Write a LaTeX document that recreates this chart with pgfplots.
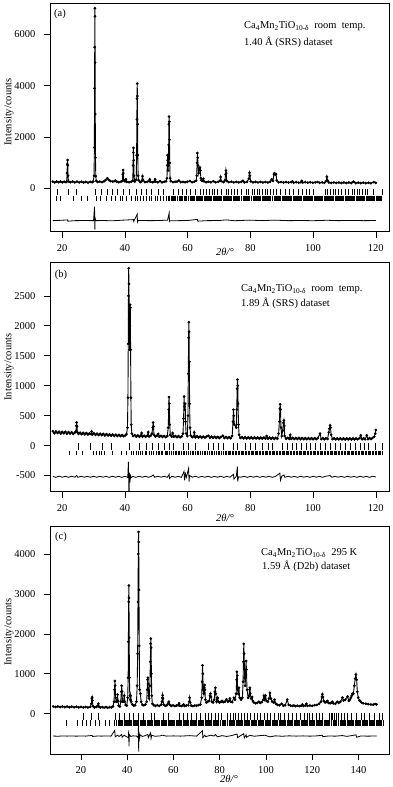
\documentclass[border=0pt]{standalone}
\usepackage{fontspec}
\setmainfont{Liberation Serif}
\usepackage{pgfplots}
\pgfplotsset{compat=1.18}
\pgfplotsset{
  panel/.style={scale only axis, width=339pt, tick align=outside, tick pos=left,
    major tick length=6pt, axis line style={line width=0.6pt},
    every tick/.append style={line width=0.6pt, black},
    ticklabel style={font=\fontsize{10.5}{12}\selectfont},
    yticklabel shift=5pt, xticklabel shift=3pt,
    /pgf/number format/assume math mode=true,
    /pgf/number format/1000 sep={}},
  obs/.style={black, line width=0.9pt, mark=*, mark size=0.85pt},
  diff/.style={black, line width=0.8pt},
  refl/.style={black, only marks, mark=|, mark options={line width=0.32pt}},
}

\begin{document}
\begin{tikzpicture}
\useasboundingbox (0,0) rectangle (392pt,-787pt);

% ---------------- (a) 1.40 A SRS
\begin{axis}[panel, at={(50pt,-231.7pt)}, anchor=south west, height=228.4pt,
  xmin=16.1, xmax=124.2, ymin=-1680, ymax=7210,
  xtick={20,40,...,120}, ytick={0,2000,4000,6000}]
\addplot[obs] coordinates {
(17.0,270)(17.6,240)(18.2,275)(18.8,245)(19.4,272)(20.0,240)(20.6,268)(21.2,245)
(21.45,270)(21.55,600)(21.62,950)(21.7,1110)(21.78,900)(21.86,500)(21.98,280)
(22.6,245)(23.3,272)(24.0,240)(24.7,268)(25.4,238)(26.1,266)(26.8,235)(27.5,262)(28.2,232)(28.9,260)(29.5,245)(29.9,280)
(30.15,500)(30.25,1600)(30.31,3900)(30.36,5500)(30.4,7020)(30.44,6700)(30.48,4900)(30.53,2900)(30.6,1200)(30.7,480)(30.85,300)
(31.3,255)(32.0,270)(32.7,250)(33.3,280)(33.8,330)(34.4,400)(34.9,330)(35.4,290)(36.1,270)(36.7,290)(37.0,310)(37.4,270)(38.0,245)(38.7,268)
(39.2,300)(39.3,550)(39.4,720)(39.5,600)(39.62,330)(40.0,280)(40.3,360)(40.6,260)(41.3,245)(42.0,268)
(42.5,300)(42.6,900)(42.67,1400)(42.72,1580)(42.8,1100)(42.88,500)(43.1,270)
(43.6,350)(43.72,1300)(43.8,2700)(43.86,3500)(43.92,4080)(43.97,3600)(44.03,2500)(44.1,1300)(44.2,500)(44.35,320)
(44.9,250)(45.3,280)(45.6,480)(45.8,320)(46.4,250)(47.1,265)(47.7,280)(47.9,360)(48.1,270)(48.8,245)(49.4,280)(49.6,360)(49.8,270)(50.5,242)(51.2,290)(51.8,242)(52.5,265)(53.1,280)
(53.4,400)(53.5,900)(53.58,1300)(53.65,1100)(53.75,700)(53.85,900)(53.95,1700)(54.02,2500)(54.08,2800)(54.14,2600)(54.2,1900)(54.28,1000)(54.4,400)(54.6,290)
(55.3,250)(56.0,265)(56.6,270)(57.2,310)(57.8,250)(58.5,262)(59.2,245)(59.9,265)(60.7,290)(61.4,245)(62.1,265)(62.7,300)
(62.9,500)(63.0,1000)(63.1,1380)(63.2,1200)(63.3,900)(63.5,600)(63.75,780)(63.9,820)(64.05,700)(64.2,400)(64.4,320)(64.7,300)(65.0,380)(65.2,280)
(65.9,245)(66.6,265)(67.4,242)(68.2,285)(68.9,242)(69.7,262)(70.3,300)(70.5,450)(70.7,290)(71.4,250)(71.9,320)
(72.1,550)(72.2,700)(72.3,600)(72.45,300)
(73.1,245)(73.9,265)(74.7,240)(75.5,262)(76.3,240)(77.1,260)(77.6,300)(78.1,240)(78.9,260)(79.5,380)(79.7,610)(79.85,500)(80.1,280)
(80.8,240)(81.6,260)(82.4,238)(83.2,258)(84.0,235)(84.8,255)(85.6,236)(86.3,265)(86.8,360)(87.2,300)(87.5,560)(87.7,600)(87.9,540)(88.2,560)(88.4,320)
(89.0,240)(89.8,255)(90.6,235)(91.4,252)(92.2,232)(93.0,250)(93.4,280)(93.8,230)(94.6,250)(95.4,228)(96.1,248)(96.4,300)(96.7,235)(97.5,248)
(98.3,228)(99.1,245)(99.9,226)(100.7,242)(101.4,255)(102.1,224)(102.9,242)(103.6,222)(104.2,300)(104.4,460)(104.6,320)(105.0,235)
(105.8,220)(106.6,238)(107.4,218)(108.2,236)(109.0,215)(109.8,234)(110.6,214)(111.4,232)(112.2,212)(112.9,270)(113.6,212)(114.4,230)
(115.2,210)(116.0,228)(116.8,208)(117.6,226)(118.4,206)(119.3,250)(120.0,220)
};
\addplot[refl, mark size=2.8pt] coordinates {
(18.40,-134)(21.91,-134)(24.57,-134)(30.64,-134)(32.55,-134)(34.36,-134)(35.96,-134)(37.55,-134)(39.47,-134)(41.38,-134)
(43.72,-134)(45.32,-134)(46.91,-134)(48.51,-134)(50.64,-134)(52.23,-134)(55.43,-134)(57.02,-134)(58.09,-134)(59.47,-134)
(60.74,-134)(62.34,-134)(63.94,-134)(64.79,-134)(65.74,-134)(66.70,-134)(67.66,-134)(68.51,-134)(69.47,-134)(70.53,-134)
(72.23,-134)(72.98,-134)(73.83,-134)(74.79,-134)(75.85,-134)(76.91,-134)(78.62,-134)(79.36,-134)(80.43,-134)(81.17,-134)
(82.02,-134)(82.87,-134)(83.83,-134)(84.68,-134)(85.43,-134)(86.28,-134)(87.13,-134)(88.09,-134)(89.47,-134)(91.06,-134)
(92.45,-134)(93.72,-134)(95.32,-134)(96.38,-134)(97.77,-134)(98.83,-134)(99.89,-134)(103.83,-134)(104.57,-134)(105.43,-134)
(106.28,-134)(107.13,-134)(107.98,-134)(108.83,-134)(110.21,-134)(111.28,-134)(112.34,-134)(113.19,-134)(113.94,-134)(114.79,-134)
(115.64,-134)(116.49,-134)(117.34,-134)(119.04,-134)(121.91,-134)
};
\addplot[refl, mark size=2.6pt] coordinates {
(18.19,-375)(19.47,-375)(23.51,-375)(26.17,-375)(27.98,-375)(30.96,-375)(32.02,-375)(34.15,-375)(35.74,-375)(36.81,-375)
(38.40,-375)(39.26,-375)(40.53,-375)(42.13,-375)(43.19,-375)(43.94,-375)(44.79,-375)(45.85,-375)(46.70,-375)(47.77,-375)
(48.51,-375)(49.57,-375)(50.32,-375)(51.38,-375)(52.23,-375)(53.30,-375)
(53.8,-375)(54.2,-375)(54.6,-375)(54.9,-375)(55.3,-375)(55.6,-375)(56.0,-375)(56.5,-375)(56.8,-375)(57.2,-375)
(57.7,-375)(58.0,-375)(58.4,-375)(58.8,-375)(59.1,-375)(59.6,-375)(60.0,-375)(60.3,-375)(60.7,-375)(61.0,-375)
(61.5,-375)(61.9,-375)(62.2,-375)(62.6,-375)(63.0,-375)(63.3,-375)(63.7,-375)(64.0,-375)(64.4,-375)(64.7,-375)
(65.1,-375)(65.5,-375)(65.8,-375)(66.2,-375)(66.5,-375)(66.9,-375)(67.3,-375)(67.6,-375)(68.0,-375)(68.3,-375)
(68.7,-375)(69.0,-375)(69.4,-375)(69.8,-375)(70.1,-375)(70.5,-375)(70.8,-375)(71.2,-375)(71.5,-375)(71.9,-375)
(72.3,-375)(72.6,-375)(73.0,-375)(73.3,-375)(73.7,-375)(74.0,-375)(74.4,-375)(74.7,-375)(75.1,-375)(75.4,-375)
(75.8,-375)(76.2,-375)(76.5,-375)(76.9,-375)(77.2,-375)(77.6,-375)(77.9,-375)(78.3,-375)(78.6,-375)(79.0,-375)
(79.4,-375)(79.7,-375)(80.1,-375)(80.4,-375)(80.8,-375)(81.1,-375)(81.5,-375)(81.8,-375)(82.2,-375)(82.5,-375)
(82.9,-375)(83.2,-375)(83.6,-375)(84.0,-375)(84.3,-375)(84.7,-375)(85.0,-375)(85.4,-375)(85.7,-375)(86.1,-375)
(86.4,-375)(86.8,-375)(87.1,-375)(87.5,-375)(87.8,-375)(88.2,-375)(88.5,-375)(88.9,-375)(89.2,-375)(89.6,-375)
(90.0,-375)(90.3,-375)(90.7,-375)(91.0,-375)(91.4,-375)(91.7,-375)(92.1,-375)(92.4,-375)(92.8,-375)(93.1,-375)
(93.5,-375)(93.8,-375)(94.2,-375)(94.5,-375)(94.9,-375)(95.2,-375)(95.6,-375)(96.0,-375)(96.3,-375)(96.7,-375)
(97.0,-375)(97.4,-375)(97.7,-375)(98.1,-375)(98.4,-375)(98.8,-375)(99.1,-375)(99.5,-375)(99.8,-375)(100.2,-375)
(100.5,-375)(100.9,-375)(101.2,-375)(101.6,-375)(102.0,-375)(102.3,-375)(102.7,-375)(103.0,-375)(103.4,-375)(103.7,-375)
(104.1,-375)(104.4,-375)(104.8,-375)(105.1,-375)(105.5,-375)(105.8,-375)(106.2,-375)(106.5,-375)(106.9,-375)(107.2,-375)
(107.6,-375)(108.0,-375)(108.3,-375)(108.7,-375)(109.0,-375)(109.4,-375)(109.7,-375)(110.1,-375)(110.4,-375)(110.8,-375)
(111.1,-375)(111.5,-375)(111.8,-375)(112.2,-375)(112.5,-375)(112.9,-375)(113.2,-375)(113.6,-375)(114.0,-375)(114.3,-375)
(114.7,-375)(115.0,-375)(115.4,-375)(115.7,-375)(116.1,-375)(116.4,-375)(116.8,-375)(117.1,-375)(117.5,-375)(117.8,-375)
(118.2,-375)(118.5,-375)(118.9,-375)(119.2,-375)(119.6,-375)(120.0,-375)(120.3,-375)(120.7,-375)(121.0,-375)(121.4,-375)(121.7,-375)
};
\addplot[diff] coordinates {
(17,-1250)(19,-1240)(21.7,-1220)(21.8,-1270)(24,-1250)(27,-1245)(30.0,-1250)(30.3,-700)(30.38,-1300)(30.42,-1600)(30.5,-1150)(30.7,-1250)
(33,-1245)(36,-1255)(39.4,-1230)(42.7,-1210)(42.8,-1280)(43.9,-1000)(44.0,-1300)(44.2,-1240)(48,-1250)(51,-1245)(53.6,-1230)
(54.1,-950)(54.2,-1280)(54.4,-1250)(57,-1250)(60,-1245)(63.1,-1200)(63.2,-1270)(66,-1250)(70,-1245)(72.2,-1220)(75,-1252)
(79.7,-1230)(84,-1248)(87.6,-1230)(92,-1250)(96,-1245)(100,-1252)(104.4,-1235)(108,-1250)(112,-1240)(116,-1250)(120,-1245)
};
\end{axis}

% ---------------- (b) 1.89 A SRS
\begin{axis}[panel, at={(50pt,-491.7pt)}, anchor=south west, height=229.4pt,
  xmin=16.1, xmax=124.2, ymin=-770, ymax=3060,
  xtick={20,40,...,120}, ytick={-500,0,500,...,2500}]
\addplot[obs] coordinates {
(17.0,240)(17.5,205)(18.0,235)(18.5,210)(19.0,232)(19.5,200)(20.0,228)(20.5,205)(21.0,230)(21.5,198)(22.0,225)(22.5,200)(23.0,222)(23.5,196)(24.0,218)
(24.4,240)(24.5,330)(24.6,385)(24.7,320)(24.85,220)
(25.2,195)(25.7,215)(26.2,190)(26.7,212)(27.2,188)(27.7,210)(28.2,185)(28.7,205)(29.2,190)(29.4,235)(29.6,185)(30.1,205)(30.6,180)(31.1,200)
(31.6,176)(32.1,198)(32.6,174)(33.1,195)(33.6,170)(34.1,192)(34.6,168)(35.1,188)(35.6,165)(36.1,185)(36.6,162)(37.1,182)(37.6,160)(38.1,178)
(38.6,158)(39.1,175)(39.6,156)(40.1,172)(40.5,190)
(40.8,300)(40.95,800)(41.05,1700)(41.12,2500)(41.2,2960)(41.28,2700)(41.36,2100)(41.45,1600)(41.55,2000)(41.65,2350)(41.72,2300)(41.8,1600)(41.9,800)(42.0,350)(42.2,200)
(42.6,160)(43.1,175)(43.6,150)(44.1,170)(44.6,148)(45.1,168)(45.3,210)(45.6,150)(46.1,165)(46.6,146)(47.1,165)(47.4,225)(47.7,150)(48.2,165)(48.6,200)
(48.85,300)(49.0,385)(49.1,320)(49.25,180)
(49.7,150)(50.2,165)(50.6,195)(51.0,148)(51.5,162)(52.0,145)(52.5,160)(53.0,142)(53.5,160)(53.8,300)
(53.95,600)(54.05,810)(54.15,700)(54.28,350)(54.45,180)
(54.9,150)(55.2,210)(55.6,148)(56.1,160)(56.6,140)(57.1,158)(57.6,138)(58.1,155)(58.5,200)
(58.7,450)(58.85,820)(58.98,650)(59.1,600)(59.2,700)(59.32,400)(59.5,200)(59.9,160)(60.1,500)
(60.2,1200)(60.3,1800)(60.38,2060)(60.45,1900)(60.52,1400)(60.62,700)(60.75,300)(60.95,170)
(61.5,140)(62.0,160)(62.1,220)(62.5,138)(63.0,155)(63.5,135)(64.0,152)(64.5,134)(65.0,150)(65.5,132)(66.0,150)(66.6,165)(67.1,130)(67.6,148)
(68.1,128)(68.6,146)(69.1,128)(69.6,145)(70.1,126)(70.6,144)(71.2,165)(71.7,125)(72.2,143)(72.7,124)(73.2,142)(73.7,124)(74.2,160)
(74.45,400)(74.58,600)(74.7,500)(74.85,350)
(75.5,300)(75.65,600)(75.78,950)(75.88,1100)(75.98,1000)(76.08,700)(76.2,350)(76.4,180)
(76.8,128)(77.3,142)(77.8,122)(78.3,140)(78.8,120)(79.3,138)(79.8,120)(80.3,138)(80.8,118)(81.3,136)(81.8,118)(82.3,136)(82.8,116)(83.3,134)
(83.8,116)(84.3,134)(84.8,115)(85.2,160)(85.6,115)(86.1,133)(86.6,114)(87.1,132)(87.6,113)(88.1,130)(88.6,114)(89.0,200)
(89.25,400)(89.4,620)(89.5,690)(89.6,600)(89.75,300)(90.0,160)(90.3,250)
(90.55,380)(90.68,420)(90.8,330)(90.95,160)
(91.4,115)(91.9,130)(92.4,112)(92.7,180)(93.0,112)(93.5,130)(94.0,110)(94.5,128)(95.0,110)(95.5,128)(96.0,108)(96.5,126)(97.0,108)(97.5,126)
(98.0,108)(98.5,125)(99.0,106)(99.5,124)(100.0,106)(100.5,124)(101.0,106)(101.5,124)(102.2,200)(102.6,106)(103.1,123)(103.6,105)(104.1,123)(104.6,110)(105.0,220)
(105.2,280)(105.4,335)(105.55,300)(105.75,180)
(106.2,108)(106.7,122)(107.2,104)(107.7,122)(108.2,104)(108.7,121)(109.2,104)(109.7,121)(110.2,103)(110.7,120)(111.2,103)(111.7,120)(112.2,103)
(112.7,120)(113.2,103)(113.7,120)(114.2,104)(114.8,125)(115.2,170)(115.6,105)(116.1,122)(116.6,106)(117.1,170)(117.5,108)(118.0,124)(118.5,110)
(119.0,130)(119.5,150)(119.8,200)(120.0,260)
};
\addplot[refl, mark size=3.2pt] coordinates {
(25.11,-15)(29.04,-15)(32.87,-15)(35.74,-15)(41.38,-15)(44.57,-15)(46.91,-15)(48.83,-15)(50.64,-15)(52.45,-15)
(54.15,-15)(55.43,-15)(58.62,-15)(60.21,-15)(62.34,-15)(66.60,-15)(68.19,-15)(69.79,-15)(71.17,-15)(74.57,-15)
(75.85,-15)(78.30,-15)(79.89,-15)(81.49,-15)(83.62,-15)(85.74,-15)(86.81,-15)(90.00,-15)(91.60,-15)(93.19,-15)
(94.57,-15)(96.06,-15)(97.66,-15)(99.04,-15)(100.64,-15)(102.23,-15)(103.83,-15)(105.43,-15)(107.02,-15)(108.62,-15)
(110.21,-15)(111.81,-15)(113.40,-15)(115.00,-15)(116.28,-15)(117.66,-15)(119.79,-15)(121.91,-15)
};
\addplot[refl, mark size=2.4pt] coordinates {
(22.13,-125)(24.36,-125)(26.49,-125)(29.89,-125)(30.96,-125)(31.81,-125)(32.55,-125)(33.30,-125)(36.06,-125)(38.94,-125)
(40.53,-125)(42.13,-125)(42.66,-125)(43.72,-125)(44.26,-125)(44.79,-125)(45.64,-125)(46.38,-125)(46.91,-125)(47.77,-125)
(48.51,-125)(49.04,-125)(49.89,-125)(50.64,-125)
(51.0,-125)(51.6,-125)(52.0,-125)(52.7,-125)(53.1,-125)(53.6,-125)(54.2,-125)(54.7,-125)(55.3,-125)(55.9,-125)
(56.3,-125)(56.9,-125)(57.4,-125)(57.9,-125)(58.5,-125)(59.0,-125)(59.6,-125)(60.2,-125)(60.7,-125)(61.3,-125)
(61.8,-125)(62.4,-125)(62.9,-125)(63.5,-125)(64.1,-125)(64.6,-125)(65.2,-125)(65.7,-125)(66.3,-125)(66.8,-125)
(67.4,-125)(67.9,-125)(68.5,-125)(69.1,-125)(69.6,-125)(70.2,-125)(70.7,-125)(71.3,-125)(71.8,-125)(72.3,-125)
(72.8,-125)(73.2,-125)(73.7,-125)(74.2,-125)(74.6,-125)(75.1,-125)(75.6,-125)(76.0,-125)(76.5,-125)(76.9,-125)
(77.4,-125)(77.8,-125)(78.3,-125)(78.7,-125)(79.2,-125)(79.6,-125)(80.1,-125)(80.5,-125)(81.0,-125)(81.4,-125)
(81.9,-125)(82.3,-125)(82.8,-125)(83.2,-125)(83.7,-125)(84.1,-125)(84.6,-125)(85.0,-125)(85.5,-125)(85.9,-125)
(86.4,-125)(86.8,-125)(87.3,-125)(87.7,-125)(88.2,-125)(88.6,-125)(89.1,-125)(89.5,-125)(90.0,-125)(90.4,-125)
(90.9,-125)(91.3,-125)(91.8,-125)(92.2,-125)(92.7,-125)(93.1,-125)(93.6,-125)(94.0,-125)(94.5,-125)(94.9,-125)
(95.4,-125)(95.8,-125)(96.3,-125)(96.7,-125)(97.2,-125)(97.6,-125)(98.1,-125)(98.5,-125)(99.0,-125)(99.4,-125)
(99.9,-125)(100.3,-125)(100.8,-125)(101.2,-125)(101.7,-125)(102.1,-125)(102.6,-125)(103.0,-125)(103.5,-125)(103.9,-125)
(104.4,-125)(104.8,-125)(105.3,-125)(105.7,-125)(106.2,-125)(106.6,-125)(107.1,-125)(107.5,-125)(108.0,-125)(108.4,-125)
(108.9,-125)(109.3,-125)(109.8,-125)(110.2,-125)(110.7,-125)(111.1,-125)(111.6,-125)(112.0,-125)(112.5,-125)(112.9,-125)
(113.4,-125)(113.8,-125)(114.3,-125)(114.7,-125)(115.2,-125)(115.6,-125)(116.1,-125)(116.5,-125)(117.0,-125)(117.4,-125)
(117.9,-125)(118.3,-125)(118.8,-125)(119.2,-125)(119.7,-125)(120.1,-125)(120.6,-125)(121.0,-125)(121.5,-125)(121.9,-125)
};
\addplot[diff] coordinates {
(17,-515)(18,-530)(19,-510)(20,-528)(21,-512)(22,-530)(23,-512)(24,-528)(24.6,-500)(25,-530)(26,-512)(27,-528)(28,-514)(29,-528)(30,-512)
(31,-530)(32,-512)(33,-528)(34,-514)(35,-530)(36,-512)(37,-528)(38,-514)(39,-530)(40,-512)(40.9,-530)(41.1,-270)(41.2,-600)(41.3,-880)
(41.45,-450)(41.6,-620)(41.75,-480)(41.9,-540)(42.5,-515)(43.5,-530)(44.5,-512)(45.5,-528)(46.5,-512)(47.5,-530)(48.5,-512)(49,-490)
(49.5,-530)(50.5,-512)(51.5,-528)(52.5,-512)(53.5,-530)(54.1,-480)(54.2,-550)(55,-512)(56,-528)(57,-514)(58,-530)(58.85,-430)(59.0,-580)
(59.3,-470)(59.6,-530)(60.3,-380)(60.45,-600)(60.6,-500)(61.5,-528)(62.5,-512)(63.5,-530)(64.5,-514)(65.5,-528)(66.5,-512)(67.5,-530)
(68.5,-514)(69.5,-528)(70.5,-512)(71.5,-530)(72.5,-514)(73.5,-528)(74.6,-480)(74.75,-560)(75.5,-512)(75.85,-350)(75.95,-600)(76.2,-520)
(77,-528)(78,-512)(79,-530)(80,-514)(81,-528)(82,-512)(83,-530)(84,-514)(85,-528)(86,-512)(87,-530)(88,-514)(89.4,-460)(89.6,-580)
(90,-512)(90.7,-490)(91,-530)(92,-512)(93,-528)(94,-514)(95,-530)(96,-512)(97,-528)(98,-514)(99,-530)(100,-512)(101,-528)(102,-514)
(103,-530)(104,-512)(105.4,-500)(106,-530)(107,-512)(108,-528)(109,-514)(110,-530)(111,-512)(112,-528)(113,-514)(114,-530)(115,-512)
(116,-528)(117,-514)(118,-530)(119,-512)(120,-525)
};
\end{axis}

% ---------------- (c) 1.59 A D2b
\begin{axis}[panel, at={(50pt,-754pt)}, anchor=south west, height=228pt,
  xmin=6.6, xmax=153.2, ymin=-1010, ymax=4700,
  xtick={20,40,...,140}, ytick={0,1000,...,4000}]
\addplot[obs] coordinates {
(8.0,180)(9.0,168)(10.0,182)(11.0,166)(12.0,180)(13.0,164)(14.0,178)(15.0,162)(16.0,176)(17.0,160)(18.0,174)(19.0,158)(20.0,172)(21.0,156)
(22.0,170)(23.0,156)(24.0,170)
(24.5,250)(24.7,380)(24.8,410)(24.95,330)(25.15,190)
(25.8,156)(26.6,168)(27.2,190)(27.5,250)(27.75,180)(28.4,154)(29.2,166)(30.0,152)(30.8,164)(31.6,150)(32.4,162)(33.2,155)(33.8,180)(34.3,300)
(34.5,600)(34.65,820)(34.8,700)(34.95,400)(35.2,300)
(35.55,300)(35.8,480)(36.0,320)(36.3,200)(36.8,180)(37.2,300)
(37.45,550)(37.6,700)(37.75,560)(37.95,300)
(38.4,300)(38.7,450)(38.95,300)(39.3,220)(39.8,200)(40.2,400)
(40.4,900)(40.5,1800)(40.6,2800)(40.68,3210)(40.75,2900)(40.85,1900)(40.95,900)(41.1,450)
(41.3,350)(41.5,450)(41.75,300)(42.2,230)(42.8,200)(43.4,210)(44.0,300)(44.3,700)
(44.5,1500)(44.65,2800)(44.78,4000)(44.88,4550)(44.97,4300)(45.07,3100)(45.2,1700)(45.35,600)
(45.7,500)(46.0,300)(46.6,220)(47.2,210)(47.8,230)(48.4,300)
(48.65,600)(48.8,850)(48.92,900)(49.05,750)(49.25,450)(49.5,380)(49.8,700)
(50.0,1300)(50.12,1750)(50.22,1880)(50.32,1650)(50.45,1000)(50.6,450)(50.85,250)
(51.5,210)(52.2,195)(53.0,212)(53.8,195)(54.6,220)(55.0,300)
(55.2,400)(55.3,460)(55.45,380)(55.7,230)(56.4,200)(57.1,210)(57.7,260)(58.0,300)(58.3,230)(59.0,195)(59.8,210)(60.6,192)(61.4,205)(62.0,210)
(62.4,260)(62.7,200)(63.4,190)(64.0,205)(64.4,230)(64.8,192)(65.6,205)(66.4,210)(66.8,300)(67.0,400)(67.25,280)(67.7,200)(68.4,190)(69.2,205)
(70.0,200)(70.8,215)(71.6,230)(72.2,400)
(72.4,800)(72.55,1210)(72.7,1000)(72.85,600)
(73.1,500)(73.3,650)(73.45,720)(73.6,600)(73.8,350)(74.2,280)(74.8,300)(75.4,320)
(75.8,450)(76.0,500)(76.2,420)(76.6,300)(77.1,280)(77.6,350)
(77.9,550)(78.1,650)(78.3,500)(78.6,300)(79.0,380)(79.1,400)(79.4,300)(80.0,280)(80.6,300)(81.0,320)(81.5,290)(82.2,300)(82.9,360)(83.5,300)
(84.0,320)(84.4,380)(84.8,300)(85.4,290)(86.1,400)(86.6,350)(87.1,500)
(87.3,850)(87.45,1050)(87.58,950)(87.7,600)(88.0,500)(88.3,650)(88.6,400)(89.2,350)(89.8,400)(90.1,800)
(90.25,1300)(90.4,1750)(90.55,1500)(90.75,900)(91.0,700)
(91.25,1100)(91.4,1320)(91.55,1100)(91.8,600)(92.3,400)(92.7,450)
(92.9,600)(93.0,650)(93.2,500)(93.6,380)(94.0,420)(94.3,320)(94.8,280)(95.5,260)(96.2,270)(96.9,300)(97.5,270)(98.2,290)(98.8,350)(99.1,450)
(99.4,350)(99.8,450)(100.2,320)(100.8,300)(101.3,380)(101.7,520)(102.1,380)(102.7,300)(103.3,280)(103.7,350)(104.3,250)(105.0,220)(105.8,210)
(106.8,250)(107.5,200)(108.3,210)(109.2,350)(109.8,220)(110.6,200)(111.4,195)(112.1,205)(112.8,188)(113.6,200)(114.4,188)(115.2,200)(115.7,230)
(116.2,192)(117.0,205)(117.5,250)(118.0,195)(119.0,205)(120.0,195)(121.0,212)(122.0,220)(123.0,250)(123.8,300)
(124.2,420)(124.4,485)(124.6,420)(125.0,320)(125.6,280)(126.2,300)(126.6,320)(127.0,270)(127.7,260)(128.3,280)(128.7,300)(129.2,260)(130.0,250)
(130.9,300)(131.5,270)(132.2,300)(133.1,400)(133.6,330)(134.3,350)(135.3,430)(135.8,320)(136.3,350)(136.7,400)(137.1,450)(137.4,500)
(137.8,500)(138.2,700)(138.6,880)(138.9,980)(139.2,850)(139.5,550)(139.9,400)(140.4,330)(140.7,320)(141.3,280)(142.0,260)(143.2,250)
(144.2,240)(145.4,230)(146.4,225)(147.2,240)(147.8,230)
};
\addplot[refl, mark size=3.5pt] coordinates {
(21.01,-80)(24.19,-80)(27.52,-80)(34.75,-80)(36.63,-80)(38.65,-80)(40.68,-80)(42.70,-80)(44.87,-80)(47.04,-80)
(50.22,-80)(51.67,-80)(55.43,-80)(57.89,-80)(62.52,-80)(64.11,-80)(66.13,-80)(67.58,-80)(69.89,-80)(71.34,-80)
(73.51,-80)(74.81,-80)(76.25,-80)(78.13,-80)(79.15,-80)(80.59,-80)(83.19,-80)(84.64,-80)(85.80,-80)(86.81,-80)
(87.82,-80)(89.27,-80)(90.43,-80)(91.87,-80)(93.03,-80)(94.76,-80)(96.21,-80)(97.66,-80)(99.10,-80)(100.55,-80)
(101.99,-80)(103.73,-80)(105.18,-80)(106.33,-80)(107.78,-80)(109.51,-80)(111.39,-80)(112.84,-80)(114.72,-80)(116.46,-80)
(117.61,-80)(118.63,-80)(120.07,-80)(121.52,-80)(122.96,-80)(124.41,-80)(127.30,-80)(128.03,-80)(128.75,-80)(129.47,-80)
(130.20,-80)(131.21,-80)(132.36,-80)(133.81,-80)(135.26,-80)(136.70,-80)(138.87,-80)(141.04,-80)(142.49,-80)(144.66,-80)
(146.83,-80)(149.00,-80)(150.44,-80)
};
\addplot[refl, mark size=2.8pt] coordinates {
(13.78,-240)(18.41,-240)(20.72,-240)(22.17,-240)(23.90,-240)(26.07,-240)(27.95,-240)(30.41,-240)(32.29,-240)
(34.5,-240)(35.0,-240)(35.4,-240)(35.9,-240)(36.5,-240)(37.0,-240)(37.4,-240)(37.9,-240)(38.5,-240)(39.0,-240)
(39.5,-240)(40.0,-240)(40.5,-240)(41.0,-240)(41.4,-240)(41.9,-240)(42.5,-240)(43.0,-240)(43.5,-240)(44.0,-240)
(44.4,-240)(44.9,-240)(45.5,-240)(46.0,-240)(46.5,-240)(47.0,-240)(47.4,-240)(47.9,-240)(48.5,-240)(49.0,-240)
(49.5,-240)(50.0,-240)(50.4,-240)(50.9,-240)(51.5,-240)(52.0,-240)(52.5,-240)(53.0,-240)(53.4,-240)(53.9,-240)
(54.5,-240)(55.0,-240)(55.5,-240)(56.0,-240)(56.4,-240)(56.9,-240)(57.5,-240)(58.0,-240)(58.5,-240)(59.0,-240)
(59.4,-240)(59.9,-240)(60.5,-240)(61.0,-240)(61.5,-240)(62.0,-240)(62.4,-240)(62.9,-240)(63.5,-240)(64.0,-240)
(64.5,-240)(65.0,-240)(65.4,-240)(65.9,-240)(66.5,-240)(67.0,-240)(67.5,-240)(68.0,-240)(68.4,-240)(68.9,-240)
(69.5,-240)(70.0,-240)(70.5,-240)(71.0,-240)(71.4,-240)(71.9,-240)(72.5,-240)(73.0,-240)(73.5,-240)(74.0,-240)
(74.4,-240)(74.9,-240)(75.5,-240)(76.0,-240)(76.5,-240)(77.0,-240)(77.4,-240)(77.9,-240)(78.5,-240)(79.0,-240)
(79.5,-240)(80.0,-240)(80.4,-240)(80.9,-240)(81.5,-240)(82.0,-240)(82.5,-240)(83.0,-240)(83.4,-240)(83.9,-240)
(84.5,-240)(85.0,-240)(85.5,-240)(86.0,-240)(86.4,-240)(86.9,-240)(87.5,-240)(88.0,-240)(88.5,-240)(89.0,-240)
(89.4,-240)(89.9,-240)(90.5,-240)(91.0,-240)(91.5,-240)(92.0,-240)(92.4,-240)(92.9,-240)(93.5,-240)(94.0,-240)
(94.5,-240)(95.0,-240)(95.4,-240)(95.9,-240)(96.5,-240)(97.0,-240)(97.5,-240)(98.0,-240)(98.4,-240)(98.9,-240)
(99.5,-240)(100.0,-240)(100.5,-240)(101.0,-240)(101.4,-240)(101.9,-240)(102.5,-240)(103.0,-240)(103.5,-240)(104.0,-240)
(104.4,-240)(104.9,-240)(105.5,-240)(106.0,-240)(106.5,-240)(107.0,-240)(107.4,-240)(107.9,-240)(108.5,-240)(109.0,-240)
(109.5,-240)(110.0,-240)(110.4,-240)(110.9,-240)(111.5,-240)(112.0,-240)(112.5,-240)(113.0,-240)(113.4,-240)(113.9,-240)
(114.5,-240)(115.0,-240)(115.5,-240)(116.0,-240)(116.4,-240)(116.9,-240)(117.5,-240)(118.0,-240)(118.5,-240)(119.0,-240)
(119.4,-240)(119.9,-240)(120.5,-240)(121.0,-240)(121.5,-240)(122.0,-240)(122.4,-240)(122.9,-240)(123.5,-240)(124.0,-240)
(124.5,-240)(125.0,-240)(125.4,-240)(125.9,-240)(126.5,-240)(127.0,-240)(127.5,-240)(128.0,-240)(128.4,-240)(128.9,-240)
(129.5,-240)(130.0,-240)(130.5,-240)(131.0,-240)(131.4,-240)(131.9,-240)(132.5,-240)(133.0,-240)(133.5,-240)(134.0,-240)
(134.4,-240)(134.9,-240)(135.5,-240)(136.0,-240)(136.5,-240)(137.0,-240)(137.4,-240)(137.9,-240)(138.5,-240)(139.0,-240)
(139.5,-240)(140.0,-240)(140.4,-240)(140.9,-240)(141.5,-240)(142.0,-240)(142.5,-240)(143.0,-240)(143.4,-240)(143.9,-240)
(144.5,-240)(145.0,-240)(145.5,-240)(146.0,-240)(146.4,-240)(146.9,-240)(147.5,-240)(148.0,-240)(148.5,-240)(149.0,-240)
(149.4,-240)(149.9,-240)(150.5,-240)
};
\addplot[diff] coordinates {
(8,-560)(10,-565)(12,-558)(14,-562)(16,-558)(18,-563)(20,-558)(22,-562)(24.8,-545)(25,-570)(27,-560)(29,-562)(31,-558)(33,-562)
(34.6,-420)(34.8,-580)(35.8,-540)(36.5,-570)(37.6,-520)(37.8,-590)(38.7,-540)(39.5,-570)(40.5,-600)(40.65,-420)(40.75,-820)(40.9,-520)
(41.5,-570)(42.5,-555)(44,-560)(44.7,-600)(44.85,-300)(44.95,-950)(45.1,-450)(45.3,-620)(45.6,-530)(46.5,-570)(47.5,-555)(48.9,-520)
(49.1,-600)(50.1,-480)(50.3,-620)(50.6,-540)(52,-565)(54,-558)(55.3,-540)(57,-562)(60,-556)(63,-562)(67,-550)(70,-562)(72.5,-430)
(72.7,-600)(73.5,-540)(74,-575)(76,-540)(77.5,-560)(78.1,-520)(79,-580)(81,-550)(83,-570)(85,-550)(87.5,-510)(87.7,-600)(89,-550)
(90.4,-500)(90.6,-610)(91.4,-530)(91.6,-590)(93,-540)(95,-565)(97,-552)(99.5,-540)(101.7,-580)(104,-555)(107,-565)(110,-555)(113,-562)
(116,-556)(119,-563)(122,-556)(124.4,-540)(124.6,-575)(127,-558)(130,-563)(133,-548)(135,-568)(137,-550)(138.9,-530)(139.2,-590)
(141,-558)(144,-563)(147.8,-558)
};
\end{axis}

% ---------------- labels and notes
\begin{scope}[every node/.style={font=\fontsize{10.5}{12}\selectfont, inner sep=0pt}]
\node[rotate=90] at (9pt,-112pt) {Intensity/counts};
\node[rotate=90] at (9pt,-367pt) {Intensity/counts};
\node[rotate=90] at (9pt,-632pt) {Intensity/counts};
\node at (225pt,-252pt) {\textit{2θ/°}};
\node at (225pt,-518pt) {\textit{2θ/°}};
\node at (229pt,-779pt) {\textit{2θ/°}};
\node at (60pt,-13.5pt) {(a)};
\node at (61pt,-275pt) {(b)};
\node at (61pt,-537pt) {(c)};
\node[anchor=base west] at (244pt,-28.5pt) {Ca\textsubscript{4}Mn\textsubscript{2}TiO\textsubscript{10-δ}\ \ room\ \ temp.};
\node[anchor=base west] at (244pt,-45.5pt) {1.40 Å (SRS) dataset};
\node[anchor=base west] at (241pt,-291.8pt) {Ca\textsubscript{4}Mn\textsubscript{2}TiO\textsubscript{10-δ}\ \ room\ \ temp.};
\node[anchor=base west] at (241pt,-306.2pt) {1.89 Å (SRS) dataset};
\node[anchor=base west] at (261pt,-555.8pt) {Ca\textsubscript{4}Mn\textsubscript{2}TiO\textsubscript{10-δ}\ \ 295 K};
\node[anchor=base west] at (262pt,-569.2pt) {1.59 Å (D2b) dataset};
\end{scope}
\end{tikzpicture}
\end{document}
